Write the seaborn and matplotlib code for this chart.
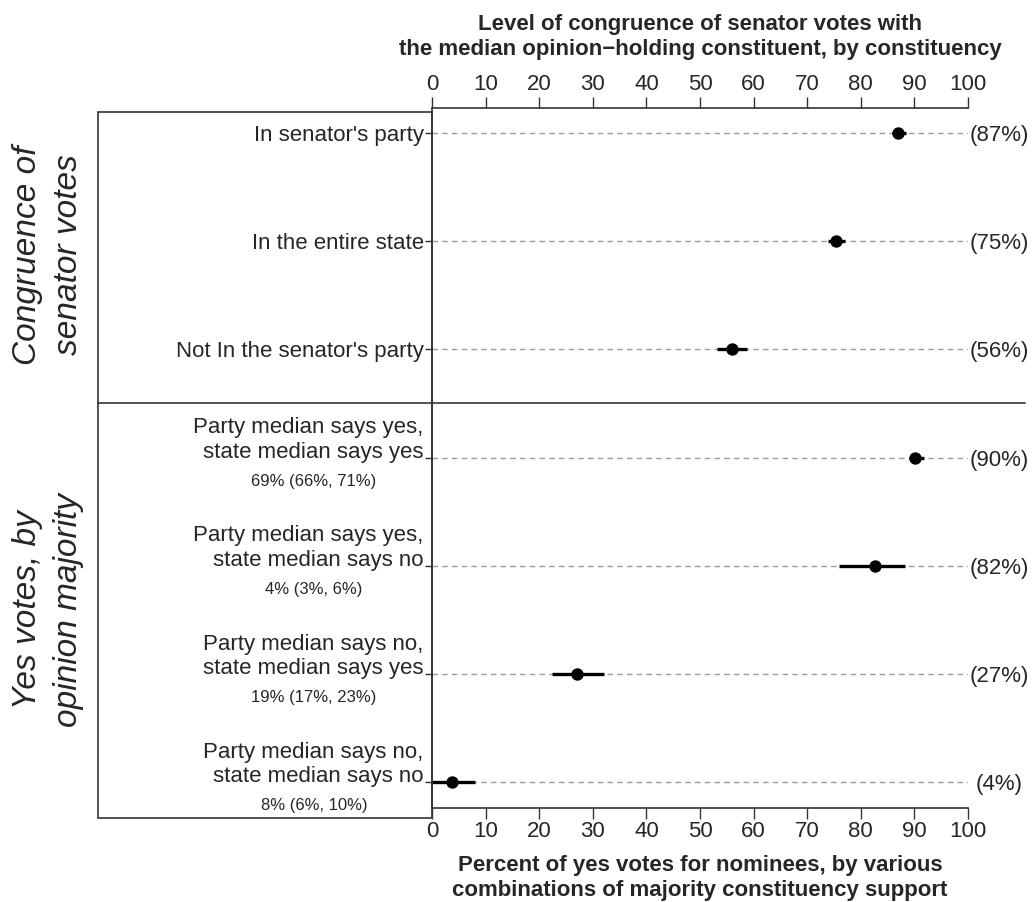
import matplotlib
matplotlib.use("Agg")
import matplotlib.pyplot as plt
from matplotlib.lines import Line2D
from matplotlib.patches import Rectangle
import seaborn as sns
import pandas as pd

# =====================================================================
# DATA
# =====================================================================
row_labels = [
    "In senator's party",
    "In the entire state",
    "Not In the senator's party",
    "Party median says yes,\nstate median says yes",
    "Party median says yes,\nstate median says no",
    "Party median says no,\nstate median says yes",
    "Party median says no,\nstate median says no",
]
share_labels = ["", "", "", "69% (66%, 71%)", "4% (3%, 6%)", "19% (17%, 23%)", "8% (6%, 10%)"]
panel = ["congruence"] * 3 + ["yes"] * 4
pct = [87.0, 75.4, 55.9, 90.2, 82.6, 27.1, 3.7]
ci_low = [85.9, 73.9, 53.1, 89.0, 76.0, 22.4, 0.0]
ci_high = [88.5, 77.1, 58.8, 91.8, 88.3, 32.0, 8.0]
pct_shown = [87, 75, 56, 90, 82, 27, 4]
x_ticks = [0, 10, 20, 30, 40, 50, 60, 70, 80, 90, 100]

top_title = "Level of congruence of senator votes with\nthe median opinion\u2212holding constituent, by constituency"
bottom_title = "Percent of yes votes for nominees, by various\ncombinations of majority constituency support"
panel_titles = {"congruence": "Congruence of\nsenator votes", "yes": "Yes votes, by\nopinion majority"}

df = pd.DataFrame({
    "row": range(len(row_labels)),
    "label": row_labels,
    "panel": panel,
    "pct": pct,
    "lo": ci_low,
    "hi": ci_high,
})

# =====================================================================
# STYLE
# =====================================================================
sns.set_theme(style="white")
plt.rcParams["font.family"] = ["Liberation Sans", "DejaVu Sans"]
plt.rcParams["axes.edgecolor"] = "#333333"

W, H = 1032, 902
fig = plt.figure(figsize=(W / 100, H / 100), dpi=100)

def fx(px):
    return px / W

def fy(py):
    return 1 - py / H

ax = fig.add_axes([fx(432), fy(808), fx(968) - fx(432), fy(108) - fy(808)])

# dashed guides, CIs, points
ax.hlines(df["row"], 0, 100, colors="#9a9a9a", linestyles=(0, (4, 3)), linewidth=1, zorder=1)
ax.hlines(df["row"], df["lo"], df["hi"], colors="black", linewidth=2.4, zorder=2)
sns.scatterplot(data=df, x="pct", y="row", color="black", s=80, edgecolor="black",
                linewidth=0, ax=ax, zorder=3, legend=False)

n = len(row_labels)
ax.set_xlim(0, 100)
ax.set_ylim(n - 1 + 0.24, -0.231)
ax.set_xticks(x_ticks)
ax.set_xticklabels([str(t) for t in x_ticks])
ax.tick_params(axis="x", top=True, labeltop=True, bottom=True, labelbottom=True,
               direction="out", length=8, width=1, color="#333333", labelsize=16, pad=1.5)
ax.set_yticks(df["row"])
ax.set_yticklabels([""] * n)
ax.set_ylabel("")
ax.tick_params(axis="y", left=True, direction="out", length=5, width=1, color="#333333")
ax.spines["right"].set_visible(False)
for s in ["top", "bottom", "left"]:
    ax.spines[s].set_linewidth(1.2)

ax.set_xlabel(bottom_title, fontsize=16, fontweight="bold", labelpad=9, linespacing=1.25)
ax.text(0.5, 1 + 48 / 700, top_title, transform=ax.transAxes, ha="center", va="bottom",
        fontsize=16, fontweight="bold", linespacing=1.25)

# right-hand value labels
for r, v in zip(df["row"], pct_shown):
    ax.text(105.8, r, f"({v}%)", ha="center", va="center_baseline", fontsize=16, clip_on=False)

# row labels on the left
for r, lab, sh, p in zip(df["row"], row_labels, share_labels, panel):
    if p == "congruence":
        ax.annotate(lab, xy=(0, r), xycoords=("axes fraction", "data"), xytext=(-6, 0),
                    textcoords="offset points", ha="right", va="center_baseline", fontsize=16)
    else:
        ax.annotate(lab, xy=(0, r), xycoords=("axes fraction", "data"), xytext=(-6, 0),
                    textcoords="offset points", ha="right", va="baseline", fontsize=16,
                    linespacing=1.2)
        ax.annotate(sh, xy=(0, r), xycoords=("axes fraction", "data"), xytext=(-85, -16),
                    textcoords="offset points", ha="center", va="center_baseline", fontsize=12)

# label box and panel divider
fig.add_artist(Rectangle((fx(98), fy(818)), fx(432) - fx(98), fy(112) - fy(818),
                         transform=fig.transFigure, fill=False, edgecolor="#333333", linewidth=1.2))
fig.add_artist(Line2D([fx(98), fx(1025)], [fy(403), fy(403)], transform=fig.transFigure,
                      color="#333333", linewidth=1.2))

# rotated panel titles
fig.text(fx(48), fy(255), panel_titles["congruence"], rotation=90, ha="center", va="center",
         fontsize=24, fontstyle="italic", linespacing=1.4, multialignment="center")
fig.text(fx(48), fy(610), panel_titles["yes"], rotation=90, ha="center", va="center",
         fontsize=24, fontstyle="italic", linespacing=1.4, multialignment="center")

fig.savefig("out.png", dpi=100, facecolor="white")
